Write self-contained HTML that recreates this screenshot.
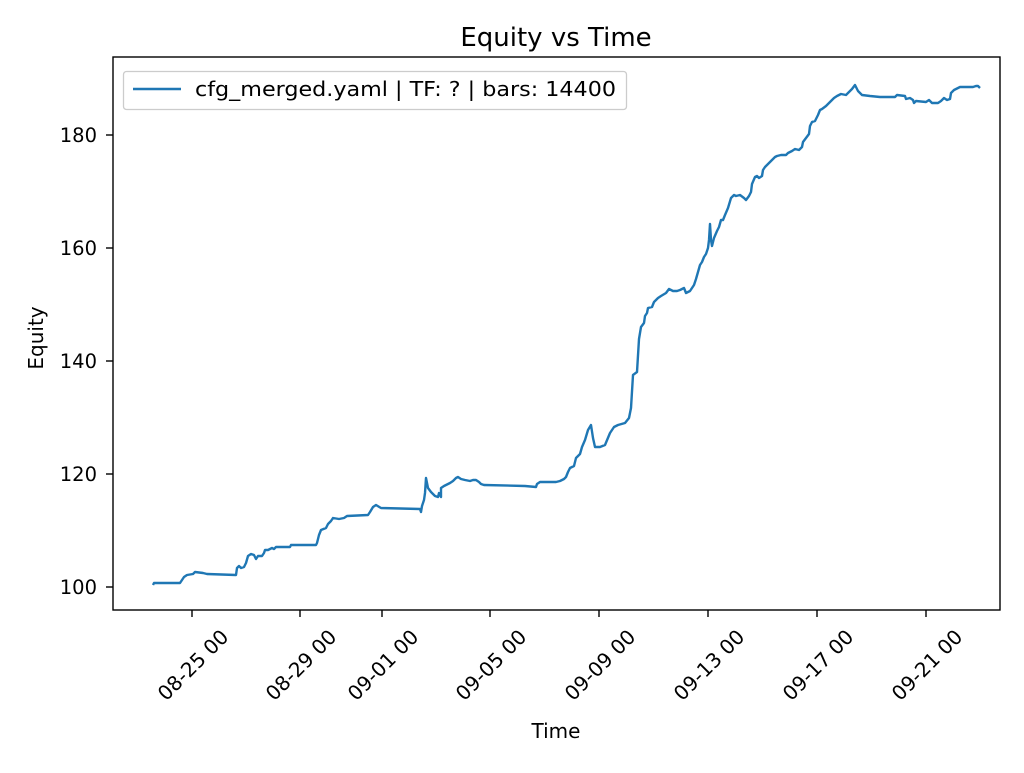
<!DOCTYPE html>
<html><head><style>body{margin:0;background:#fff}</style></head><body>
<svg width="1024" height="768" xmlns="http://www.w3.org/2000/svg" font-family="DejaVu Sans, Liberation Sans, sans-serif">
<rect width="1024" height="768" fill="#fff"/>
<text x="556" y="46" font-size="26" text-anchor="middle">Equity vs Time</text>
<polyline fill="none" stroke="#1f77b4" stroke-width="2.4" stroke-linejoin="round" points="153,585 154,583 180,583 184,577 187,575 193,574 195,572 203,573 207,574 236,575 237,568 239,566 241,568 244,567 246,563 248,556 251,554 254,555 256,559 258,556 262,556 264,553 265,550 268,550 272,548 274,549 276,547 290,547 291,545 316,545 317,543 319,535 321,530 326,528 328,524 331,521 333,518 339,519 344,518 347,516 368,515 370,512 373,507 376,505 381,508 420,509 421,512 422,506 424,500 425,493 426,478 428,488 431,492 435,496 438,497 439,493 441,497 441,488 444,486 448,484 450,483 453,481 456,478 458,477 461,479 465,480 470,481 473,480 476,480 479,482 481,484 484,485 525,486 536,487 537,484 540,482 556,482 560,481 564,479 566,477 568,472 570,468 572,467 574,466 576,458 578,456 580,454 582,447 585,440 588,430 591,425 593,438 595,447 600,447 605,445 610,433 614,427 618,425 625,423 629,418 631,408 633,375 637,372 639,339 641,327 644,323 645,316 647,313 648,308 652,307 654,302 658,298 661,296 666,293 669,289 673,291 677,291 680,290 684,288 686,293 690,291 694,285 696,279 698,272 700,265 702,262 704,257 706,254 708,248 709,240 710,224 711,240 712,246 714,238 717,231 719,227 721,220 723,220 725,215 728,208 731,198 734,195 736,196 740,195 744,198 746,200 749,196 751,192 752,184 755,177 757,176 759,178 762,176 763,170 765,167 767,165 770,162 773,159 775,157 777,156 781,155 786,155 788,153 792,151 795,149 799,150 802,147 803,142 806,138 809,134 810,126 812,122 815,121 818,115 820,110 822,109 826,106 829,103 831,101 834,98 837,96 841,94 846,95 849,92 852,89 855,85 858,91 862,95 870,96 880,97 895,97 897,95 905,96 906,99 910,98 913,100 914,103 916,101 926,102 929,100 932,103 938,103 941,101 944,98 947,100 950,99 951,93 954,90 958,88 960,87 965,87 973,87 976,86 978,86 980,88"/>
<rect x="113" y="57" width="887" height="553" fill="none" stroke="#000" stroke-width="1.4"/>
<g stroke="#000" stroke-width="1.4">
<line x1="113" x2="106" y1="587" y2="587"/><line x1="113" x2="106" y1="474" y2="474"/><line x1="113" x2="106" y1="361" y2="361"/><line x1="113" x2="106" y1="248" y2="248"/><line x1="113" x2="106" y1="135" y2="135"/>
<line x1="192" x2="192" y1="610" y2="617"/><line x1="300" x2="300" y1="610" y2="617"/><line x1="382" x2="382" y1="610" y2="617"/><line x1="490" x2="490" y1="610" y2="617"/><line x1="599" x2="599" y1="610" y2="617"/><line x1="708" x2="708" y1="610" y2="617"/><line x1="817" x2="817" y1="610" y2="617"/><line x1="926" x2="926" y1="610" y2="617"/>
</g>
<g font-size="19.5" text-anchor="end">
<text x="97" y="594">100</text><text x="97" y="481">120</text><text x="97" y="368">140</text><text x="97" y="255">160</text><text x="97" y="142">180</text>
</g>
<g font-size="20" text-anchor="middle" dominant-baseline="central">
<text transform="translate(193,665) rotate(-45)">08-25 00</text>
<text transform="translate(301,665) rotate(-45)">08-29 00</text>
<text transform="translate(383,665) rotate(-45)">09-01 00</text>
<text transform="translate(491,665) rotate(-45)">09-05 00</text>
<text transform="translate(600,665) rotate(-45)">09-09 00</text>
<text transform="translate(709,665) rotate(-45)">09-13 00</text>
<text transform="translate(818,665) rotate(-45)">09-17 00</text>
<text transform="translate(927,665) rotate(-45)">09-21 00</text>
</g>
<text x="556" y="738" font-size="20" text-anchor="middle">Time</text>
<text transform="translate(43,338) rotate(-90)" font-size="20" text-anchor="middle">Equity</text>
<rect x="123.5" y="71.5" width="503" height="38" rx="3" fill="#fff" stroke="#ccc" stroke-width="1.3"/>
<line x1="133" x2="181" y1="89" y2="89" stroke="#1f77b4" stroke-width="2.4"/>
<text x="195" y="96" font-size="20" textLength="421" lengthAdjust="spacingAndGlyphs">cfg_merged.yaml | TF: ? | bars: 14400</text>
</svg>
</body></html>
